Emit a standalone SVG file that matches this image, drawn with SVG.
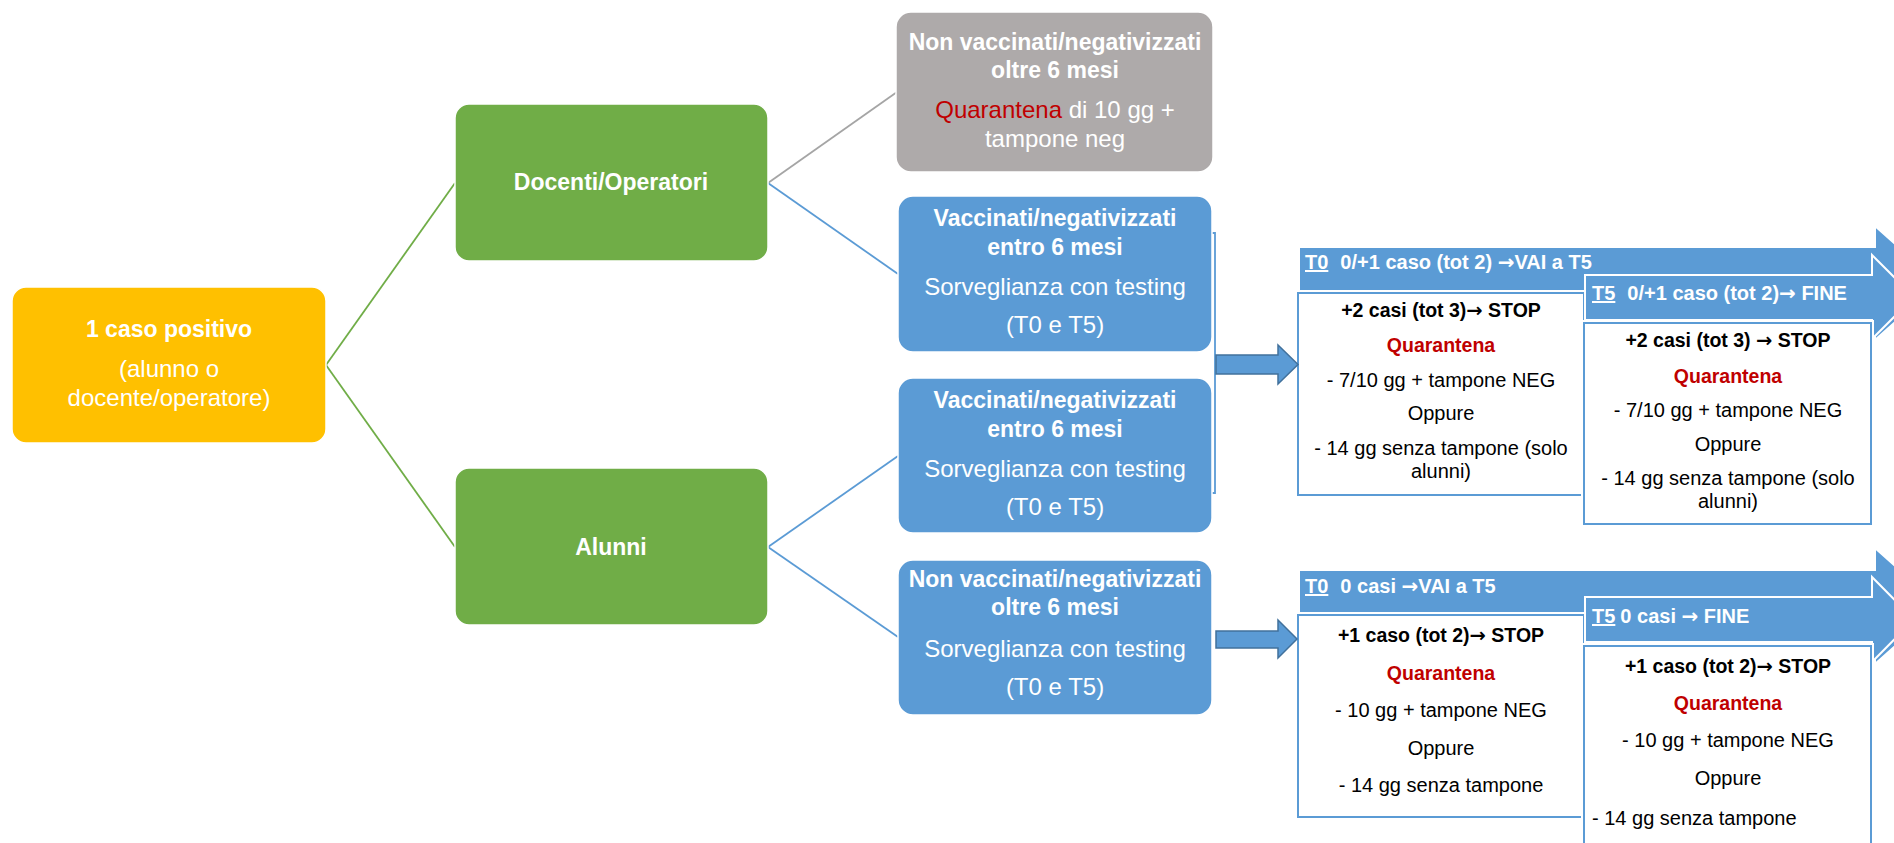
<svg xmlns="http://www.w3.org/2000/svg" width="1894" height="843" viewBox="0 0 1894 843">
<style>
text{font-family:"Liberation Sans",Arial,sans-serif;}
.c{text-anchor:middle;}
.wb{fill:#fff;font-weight:bold;font-size:23px;}
.wr{fill:#fff;font-size:24px;}
.bb{fill:#000;font-weight:bold;font-size:19.5px;}
.br{fill:#000;font-size:20px;}
.rq{fill:#C00000;font-weight:bold;font-size:19.5px;}
.band{fill:#fff;font-weight:bold;font-size:20px;}
.u{text-decoration:underline;}
.ar{font-family:"DejaVu Sans",sans-serif;font-weight:bold;}
.yellow{fill:#FFC000;stroke:#fff;stroke-width:1.5;}
.green{fill:#70AD47;stroke:#fff;stroke-width:1.5;}
.gray{fill:#AEAAAA;stroke:#fff;stroke-width:1.5;}
.blue{fill:#5B9BD5;stroke:#fff;stroke-width:1.5;}
.big{fill:#5B9BD5;stroke:#fff;stroke-width:2;}
.halo{fill:#fff;stroke:#fff;stroke-width:6;}
.wbox{fill:#fff;stroke:#5B9BD5;stroke-width:2;}
.small{fill:#5B9BD5;stroke:#41719C;stroke-width:1.5;}
.lg{stroke:#70AD47;stroke-width:1.8;fill:none;}
.lgr{stroke:#A5A5A5;stroke-width:1.8;fill:none;}
.lb{stroke:#5B9BD5;stroke-width:1.8;fill:none;}
</style>

<g id="connectors">
<line class="lg" x1="326" y1="365" x2="455" y2="183"/>
<line class="lg" x1="326" y1="365" x2="455" y2="547"/>
<line class="lgr" x1="768" y1="183" x2="897" y2="92"/>
<line class="lb" x1="768" y1="183" x2="898" y2="274"/>
<line class="lb" x1="768" y1="547" x2="898" y2="456"/>
<line class="lb" x1="768" y1="547" x2="898" y2="637"/>
<path class="lb" d="M1211,233 H1215 V493 H1211" stroke-width="1.3"/>
</g>

<g id="node-start">
<rect class="yellow" x="12" y="287" width="314" height="156" rx="14"/>
<text class="c wb" x="169" y="337">1 caso positivo</text>
<text class="c wr" x="169" y="377">(alunno o</text>
<text class="c wr" x="169" y="406">docente/operatore)</text>
</g>

<g id="node-docenti">
<rect class="green" x="455" y="104" width="313" height="157" rx="14"/>
<text class="c wb" x="611" y="190">Docenti/Operatori</text>
</g>

<g id="node-alunni">
<rect class="green" x="455" y="468" width="313" height="157" rx="14"/>
<text class="c wb" x="611" y="555">Alunni</text>
</g>

<g id="node-doc-nonvacc">
<rect class="gray" x="896" y="12" width="317" height="160" rx="15"/>
<text class="c wb" x="1055" y="50">Non vaccinati/negativizzati</text>
<text class="c wb" x="1055" y="78">oltre 6 mesi</text>
<text class="c wr" x="1055" y="118"><tspan fill="#C00000">Quarantena</tspan> di 10 gg +</text>
<text class="c wr" x="1055" y="147">tampone neg</text>
</g>

<g id="node-doc-vacc">
<rect class="blue" x="898" y="196" width="314" height="156" rx="15"/>
<text class="c wb" x="1055" y="226">Vaccinati/negativizzati</text>
<text class="c wb" x="1055" y="255">entro 6 mesi</text>
<text class="c wr" x="1055" y="295">Sorveglianza con testing</text>
<text class="c wr" x="1055" y="333">(T0 e T5)</text>
</g>

<g id="node-alu-vacc">
<rect class="blue" x="898" y="378" width="314" height="155" rx="15"/>
<text class="c wb" x="1055" y="408">Vaccinati/negativizzati</text>
<text class="c wb" x="1055" y="437">entro 6 mesi</text>
<text class="c wr" x="1055" y="477">Sorveglianza con testing</text>
<text class="c wr" x="1055" y="515">(T0 e T5)</text>
</g>

<g id="node-alu-nonvacc">
<rect class="blue" x="898" y="560" width="314" height="155" rx="15"/>
<text class="c wb" x="1055" y="587">Non vaccinati/negativizzati</text>
<text class="c wb" x="1055" y="615">oltre 6 mesi</text>
<text class="c wr" x="1055" y="657">Sorveglianza con testing</text>
<text class="c wr" x="1055" y="695">(T0 e T5)</text>
</g>

<g id="flow-vaccinati">
<polygon class="big" points="1299,247 1875,247 1875,226 1939,283 1875,340 1875,319 1299,319"/>
<text class="band" x="1305" y="269"><tspan class="u">T0</tspan><tspan dx="12">0/+1 caso (tot 2) </tspan><tspan class="ar">→</tspan>VAI a T5</text>
<rect class="halo" x="1298" y="293" width="286" height="202"/>
<rect class="wbox" x="1298" y="293" width="286" height="202"/>
<text class="c bb" x="1441" y="317">+2 casi (tot 3)<tspan class="ar">→</tspan> STOP</text>
<text class="c rq" x="1441" y="352">Quarantena</text>
<text class="c br" x="1441" y="387">- 7/10 gg + tampone NEG</text>
<text class="c br" x="1441" y="420">Oppure</text>
<text class="c br" x="1441" y="455">- 14 gg senza tampone (solo</text>
<text class="c br" x="1441" y="478">alunni)</text>
<polygon class="big" points="1585,275 1872,275 1872,255 1914,297 1872,339 1872,320 1585,320"/>
<text class="band" x="1592" y="300"><tspan class="u">T5</tspan><tspan dx="12">0/+1 caso (tot 2)</tspan><tspan class="ar">→</tspan> FINE</text>
<rect class="halo" x="1584" y="323" width="287" height="201"/>
<rect class="wbox" x="1584" y="323" width="287" height="201"/>
<text class="c bb" x="1728" y="347">+2 casi (tot 3) <tspan class="ar">→</tspan> STOP</text>
<text class="c rq" x="1728" y="383">Quarantena</text>
<text class="c br" x="1728" y="417">- 7/10 gg + tampone NEG</text>
<text class="c br" x="1728" y="451">Oppure</text>
<text class="c br" x="1728" y="485">- 14 gg senza tampone (solo</text>
<text class="c br" x="1728" y="508">alunni)</text>
<polygon class="small" points="1216,355 1278,355 1278,345 1298,364.5 1278,384 1278,374 1216,374"/>
</g>

<g id="flow-nonvaccinati">
<polygon class="big" points="1299,570 1875,570 1875,548 1940,606 1875,664 1875,642 1299,642"/>
<text class="band" x="1305" y="593"><tspan class="u">T0</tspan><tspan dx="12">0 casi </tspan><tspan class="ar">→</tspan>VAI a T5</text>
<rect class="halo" x="1298" y="615" width="286" height="202"/>
<rect class="wbox" x="1298" y="615" width="286" height="202"/>
<text class="c bb" x="1441" y="642">+1 caso (tot 2)<tspan class="ar">→</tspan> STOP</text>
<text class="c rq" x="1441" y="680">Quarantena</text>
<text class="c br" x="1441" y="717">- 10 gg + tampone NEG</text>
<text class="c br" x="1441" y="755">Oppure</text>
<text class="c br" x="1441" y="792">- 14 gg senza tampone</text>
<polygon class="big" points="1585,597 1872,597 1872,577 1914,619.5 1872,662 1872,642 1585,642"/>
<text class="band" x="1592" y="623"><tspan class="u">T5</tspan><tspan dx="5">0 casi </tspan><tspan class="ar">→</tspan> FINE</text>
<rect class="halo" x="1584" y="646" width="287" height="220"/>
<rect class="wbox" x="1584" y="646" width="287" height="220"/>
<text class="c bb" x="1728" y="673">+1 caso (tot 2)<tspan class="ar">→</tspan> STOP</text>
<text class="c rq" x="1728" y="710">Quarantena</text>
<text class="c br" x="1728" y="747">- 10 gg + tampone NEG</text>
<text class="c br" x="1728" y="785">Oppure</text>
<text class="br" x="1592" y="825">- 14 gg senza tampone</text>
<polygon class="small" points="1216,631 1278,631 1278,620 1297,639 1278,658 1278,648 1216,648"/>
</g>
</svg>
